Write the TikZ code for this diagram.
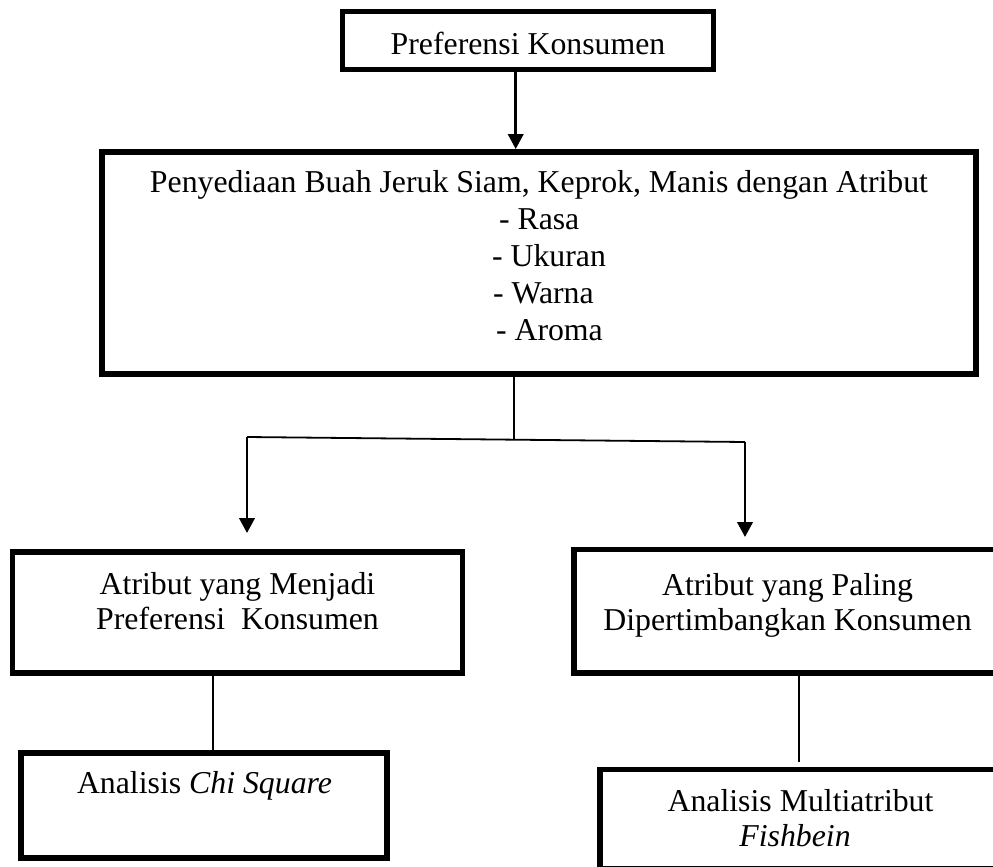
\documentclass[tikz,border=0pt]{standalone}
\usepackage{fontspec}
\setmainfont{Liberation Serif}
\usetikzlibrary{arrows.meta}
\tikzset{
  boxframe/.style={draw=black, line width=5.5pt, rectangle, inner sep=0pt, outer sep=0pt, fill=none},
  txt/.style={inner sep=0pt, outer sep=0pt, anchor=base, font=\fontsize{31.8pt}{37pt}\selectfont},
  txtw/.style={txt, anchor=base west},
  arr/.style={line width=2.5pt, -{Triangle[width=15.5pt,length=15pt]}},
  thinline/.style={line width=1.6pt},
}
\begin{document}
\begin{tikzpicture}[x=1pt,y=-1pt]
\useasboundingbox (0,0) rectangle (993,867);
\clip (0,0) rectangle (993,867);
\fill[white] (0,0) rectangle (993,867);

% boxes
\node[boxframe, line width=5pt, minimum width=371pt, minimum height=57.7pt] (top) at (528,40.6) {};
\node[boxframe, minimum width=874pt, minimum height=222pt] (big) at (539,263) {};
\node[boxframe, minimum width=450pt, minimum height=121pt] (lb) at (237.5,612.5) {};
\node[boxframe, minimum width=436pt, minimum height=123.5pt] (rb) at (792,611.25) {};
\node[boxframe, minimum width=366pt, minimum height=105pt] (chi) at (204,805.5) {};
\node[boxframe, minimum width=410pt, minimum height=99.5pt] (fish) at (805,819.25) {};

% texts
\node[txt] (t1) at (528,55) {Preferensi Konsumen};
\node[txt] (b1) at (539,192) {Penyediaan Buah Jeruk Siam, Keprok, Manis dengan Atribut};
\node[txtw] (b2) at (499,229) {- Rasa};
\node[txtw] (b3) at (492,266) {- Ukuran};
\node[txtw] (b4) at (493,303) {- Warna};
\node[txtw] (b5) at (496,340) {- Aroma};
\node[txt] (l1) at (237.5,594) {Atribut yang Menjadi};
\node[txt] (l2) at (237.5,629) {Preferensi\ \ Konsumen};
\node[txt] (r1) at (787.5,595) {Atribut yang Paling};
\node[txt] (r2) at (787.5,630) {Dipertimbangkan Konsumen};
\node[txt] (c1) at (204.5,793) {Analisis \textit{Chi Square}};
\node[txt] (f1) at (800.5,811) {Analisis Multiatribut};
\node[txt] (f2) at (795,846) {\textit{Fishbein}};

% connector coordinates
\coordinate (ta) at (515.7,149);
\coordinate (jn) at (514,439.7);
\coordinate (hl) at (247,437);
\coordinate (hr) at (745,442);
\coordinate (al) at (247,533);
\coordinate (ar) at (745,537);
\coordinate (cl) at (213,750);
\coordinate (fr) at (799,762);

% connectors
\draw[arr] (top.south -| ta) -- (ta);
\draw[thinline] (big.south -| jn) -- (jn);
\draw[line width=1.8pt] (hl) -- (hr);
\draw[arr] (hl) -- (al);
\draw[arr] (hr) -- (ar);
\draw[thinline] (lb.south -| cl) -- (chi.north -| cl);
\draw[thinline] (rb.south -| fr) -- (fr);
\end{tikzpicture}
\end{document}
